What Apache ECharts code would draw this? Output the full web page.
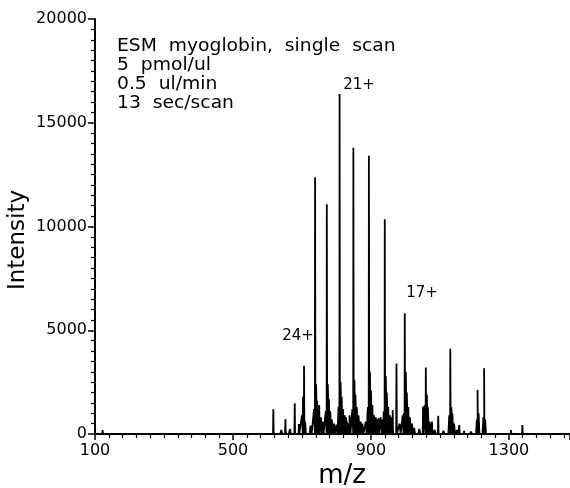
<!DOCTYPE html>
<html>
<head>
<meta charset="utf-8">
<script src="https://cdn.jsdelivr.net/npm/echarts@6/dist/echarts.min.js"></script>
<style>
html,body{margin:0;padding:0;background:#fff;}
#chart{width:570px;height:488px;}
</style>
</head>
<body>
<div id="chart"></div>
<script>
// Main peaks (m/z, intensity)
const peakMz = [122, 617, 652, 679, 691, 706, 738, 750, 772, 809, 849, 894, 922, 940, 963, 974, 998, 1051, 1059, 1077, 1095, 1130, 1156, 1170, 1209, 1228, 1306, 1339];
const peakI  = [190, 1190, 710, 1480, 480, 3290, 12370, 1400, 11070, 16390, 13800, 13410, 770, 10350, 1150, 3400, 5820, 1320, 3210, 600, 880, 4110, 430, 150, 2120, 3170, 190, 430];
// Peak shoulders / adducts (m/z, intensity)
const shoulderMz = [700, 703, 709, 735, 741, 744, 748, 755, 760, 769, 775, 778, 782, 787, 793, 806, 812, 815, 819, 824, 828, 835, 838, 846, 852, 855, 859, 864, 870, 885, 891, 897, 900, 904, 909, 914, 918, 932, 937, 943, 946, 950, 955, 960, 992, 995, 1001, 1004, 1008, 1013, 1019, 1056, 1062, 1065, 1070, 1127, 1133, 1136, 1141, 1207, 1212, 1226, 1231];
const shoulderI  = [900, 1800, 600, 1200, 2400, 1600, 1100, 800, 600, 1100, 2400, 1700, 1100, 700, 500, 1300, 2500, 1800, 1200, 900, 800, 500, 900, 1200, 2600, 1900, 1300, 900, 600, 600, 1300, 3000, 2100, 1400, 900, 800, 700, 700, 1100, 2800, 2000, 1300, 900, 800, 900, 1000, 3000, 2000, 1300, 800, 500, 1400, 1900, 1300, 600, 900, 1300, 1000, 500, 700, 1000, 800, 700];
// Baseline noise (m/z, intensity)
const noiseMz = [300, 380, 450, 640, 665, 725, 790, 800, 830, 875, 915, 928, 955, 983, 1025, 1040, 1085, 1110, 1150, 1190, 1250, 1280];
const noiseI  = [60, 70, 60, 200, 250, 400, 500, 450, 600, 500, 600, 800, 700, 500, 300, 250, 200, 150, 200, 120, 80, 60];

const xTicks = [100, 500, 900, 1300];
const yTicks = [0, 5000, 10000, 15000, 20000];

const items = [];
peakMz.forEach((m, i) => items.push({ m: m, h: peakI[i], w: 1.0 }));
shoulderMz.forEach((m, i) => items.push({ m: m, h: shoulderI[i], w: 2.5 }));
noiseMz.forEach((m, i) => items.push({ m: m, h: noiseI[i], w: 3 }));
items.sort((a, b) => a.m - b.m);
const lineData = [[100, 0]];
items.forEach(p => {
  lineData.push([p.m - p.w, 0]);
  lineData.push([p.m, p.h]);
  lineData.push([p.m + p.w, 0]);
});
lineData.push([1477, 0]);

const FONT = 'DejaVu Sans';
const chart = echarts.init(document.getElementById('chart'), null, { renderer: 'canvas' });
chart.setOption({
  animation: false,
  backgroundColor: '#fff',
  grid: { left: 95, top: 19, right: 0, bottom: 54, containLabel: false },
  xAxis: [{
    type: 'value', min: 100, max: 1477, interval: 400,
    axisLine: { show: true, onZero: false, lineStyle: { color: '#000', width: 2 } },
    axisTick: { show: true, inside: false, length: 6, lineStyle: { color: '#000', width: 1.5 } },
    minorTick: { show: true, splitNumber: 10, length: 4, lineStyle: { color: '#000', width: 1.2 } },
    axisLabel: { show: true, color: '#000', fontFamily: FONT, fontSize: 16, margin: 9, showMaxLabel: false,
      formatter: v => xTicks.indexOf(v) >= 0 ? String(v) : '' },
    splitLine: { show: false }
  }, {
    type: 'value', position: 'top', min: 100, max: 1477,
    axisLine: { show: true, lineStyle: { color: '#000', width: 2 } },
    axisTick: { show: false }, axisLabel: { show: false }, splitLine: { show: false }
  }],
  yAxis: {
    type: 'value', min: 0, max: 20000, interval: 5000,
    axisLine: { show: true, lineStyle: { color: '#000', width: 2 } },
    axisTick: { show: true, inside: false, length: 7, lineStyle: { color: '#000', width: 1.5 } },
    minorTick: { show: true, splitNumber: 10, length: 4, lineStyle: { color: '#000', width: 1.2 } },
    axisLabel: { color: '#000', fontFamily: FONT, fontSize: 16, margin: 8,
      formatter: v => yTicks.indexOf(v) >= 0 ? String(v) : '' },
    splitLine: { show: false }
  },
  series: [{
    type: 'line', xAxisIndex: 0, data: lineData, showSymbol: false, symbol: 'none',
    lineStyle: { color: '#000', width: 1.8 }, z: 3
  }],
  graphic: [
    { type: 'text', x: 117, y: 37, scaleX: 1.04, style: { text: 'ESM  myoglobin,  single  scan\n5  pmol/ul\n0.5  ul/min\n13  sec/scan', fill: '#000', font: '18px "DejaVu Sans"', lineHeight: 19, textVerticalAlign: 'top' } },
    { type: 'text', x: 359, y: 85, style: { text: '21+', fill: '#000', font: '15px "DejaVu Sans"', textAlign: 'center', textVerticalAlign: 'middle' } },
    { type: 'text', x: 298, y: 336, style: { text: '24+', fill: '#000', font: '15px "DejaVu Sans"', textAlign: 'center', textVerticalAlign: 'middle' } },
    { type: 'text', x: 422, y: 293, style: { text: '17+', fill: '#000', font: '15px "DejaVu Sans"', textAlign: 'center', textVerticalAlign: 'middle' } },
    { type: 'text', x: 18, y: 240, rotation: Math.PI / 2, style: { text: 'Intensity', fill: '#000', font: '23px "DejaVu Sans"', textAlign: 'center', textVerticalAlign: 'middle' } },
    { type: 'text', x: 342, y: 476, style: { text: 'm/z', fill: '#000', font: '26px "DejaVu Sans"', textAlign: 'center', textVerticalAlign: 'middle' } }
  ]
});
</script>
</body>
</html>
